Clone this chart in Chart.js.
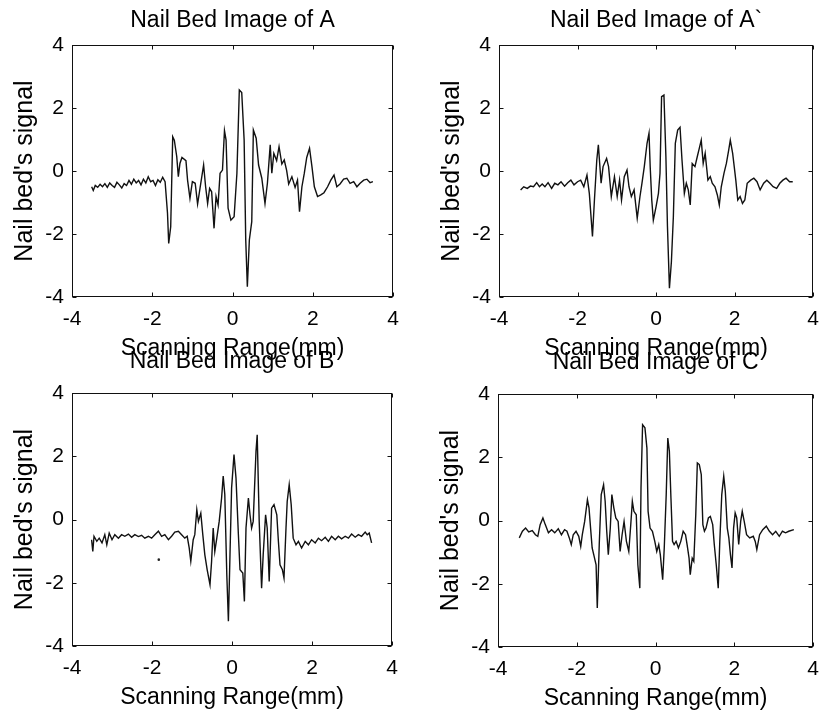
<!DOCTYPE html>
<html><head><meta charset="utf-8">
<script src="https://cdn.jsdelivr.net/npm/chart.js@4.4.1/dist/chart.umd.min.js"></script>
<style>
html,body{margin:0;padding:0;background:#fff;width:829px;height:718px;overflow:hidden;}
canvas{position:absolute;}
</style></head><body>
<canvas id="cA" width="414" height="362" style="left:0px;top:0px"></canvas>
<canvas id="cA2" width="402" height="362" style="left:427px;top:0px"></canvas>
<canvas id="cB" width="414" height="363" style="left:0px;top:348px"></canvas>
<canvas id="cC" width="403" height="363" style="left:426px;top:349px"></canvas>
<script>
// ---- data ----
const titles = ["Nail Bed Image of A", "Nail Bed Image of A`", "Nail Bed Image of B", "Nail Bed Image of C"];
const xLabel = "Scanning Range(mm)";
const yLabel = "Nail bed's signal";
const tickValues = [-4, -2, 0, 2, 4];

const xA = [-3.51,-3.47,-3.42,-3.36,-3.30,-3.24,-3.18,-3.12,-3.06,-3.00,-2.94,-2.88,-2.82,-2.76,-2.70,-2.64,-2.58,-2.52,-2.46,-2.40,-2.34,-2.28,-2.22,-2.16,-2.10,-2.04,-1.98,-1.92,-1.86,-1.80,-1.74,-1.68,
  -1.62,-1.59,-1.54,-1.49,-1.45,-1.39,-1.35,-1.31,-1.26,-1.16,-1.12,-1.06,-1.00,-0.93,-0.87,-0.81,-0.72,-0.67,-0.62,-0.57,-0.52,-0.46,-0.41,-0.36,-0.31,-0.25,-0.20,-0.16,-0.11,-0.04,
  0.04,0.11,0.17,0.23,0.29,0.33,0.37,0.42,0.48,0.52,0.59,0.65,0.73,0.81,0.87,0.94,0.98,1.03,1.10,1.16,1.23,1.29,1.35,1.40,1.48,1.56,1.62,1.67,1.73,1.79,1.85,1.92,1.98,
  2.04,2.12,2.20,2.28,2.37,2.45,2.53,2.60,2.68,2.77,2.85,2.93,3.02,3.10,3.18,3.27,3.35,3.43,3.50];
const yA = [-0.50,-0.62,-0.46,-0.52,-0.42,-0.50,-0.40,-0.52,-0.38,-0.46,-0.52,-0.36,-0.44,-0.54,-0.40,-0.46,-0.30,-0.42,-0.26,-0.38,-0.30,-0.44,-0.26,-0.38,-0.18,-0.34,-0.30,-0.46,-0.28,-0.36,-0.20,-0.34,
  -1.34,-2.30,-1.77,1.09,0.98,0.46,-0.18,0.24,0.43,0.33,-0.29,-0.87,-0.34,-0.39,-1.05,-0.55,0.19,-0.50,-1.03,-0.55,-0.66,-1.82,-0.81,-1.08,-0.07,0.03,1.28,0.98,-1.18,-1.56,
  -1.45,-0.07,2.57,2.49,0.98,-2.19,-3.67,-2.19,-1.61,1.30,1.04,0.19,-0.23,-1.03,-0.39,0.83,-0.07,0.56,0.33,0.77,0.22,0.35,0.01,-0.41,-0.18,-0.52,-0.29,-1.29,-0.50,-0.07,0.43,0.72,0.14,
  -0.50,-0.81,-0.76,-0.69,-0.50,-0.29,-0.13,-0.50,-0.41,-0.26,-0.23,-0.39,-0.34,-0.50,-0.39,-0.29,-0.26,-0.37,-0.34];

const xA2 = [-3.45,-3.37,-3.28,-3.20,-3.12,-3.04,-2.97,-2.90,-2.83,-2.75,-2.66,-2.58,-2.50,-2.42,-2.33,-2.25,-2.17,-2.09,-2.00,-1.92,-1.84,-1.76,
  -1.70,-1.65,-1.62,-1.57,-1.51,-1.47,-1.40,-1.35,-1.26,-1.21,-1.14,-1.06,-0.99,-0.93,-0.88,-0.81,-0.74,-0.69,-0.63,-0.56,-0.48,-0.41,-0.36,-0.30,-0.23,-0.18,-0.15,-0.11,-0.07,
  0.00,0.06,0.10,0.14,0.20,0.25,0.29,0.34,0.39,0.44,0.49,0.55,0.61,0.66,0.72,0.77,0.82,0.87,0.92,0.99,1.05,1.10,1.15,1.20,1.25,1.32,1.38,1.43,1.50,1.56,1.61,1.66,1.73,1.79,1.85,1.89,1.95,1.99,
  2.03,2.08,2.14,2.20,2.26,2.32,2.41,2.49,2.57,2.65,2.74,2.82,2.90,2.98,3.07,3.15,3.23,3.31,3.40,3.48];
const yA2 = [-0.60,-0.50,-0.55,-0.48,-0.50,-0.37,-0.50,-0.41,-0.50,-0.37,-0.55,-0.39,-0.44,-0.34,-0.48,-0.37,-0.29,-0.44,-0.34,-0.29,-0.50,-0.13,
  -0.71,-1.56,-2.08,-0.92,0.35,0.83,-0.39,0.14,0.40,0.14,-0.81,-0.18,-0.81,-0.29,-0.92,-0.18,0.03,-0.50,-0.81,-0.60,-1.50,-0.81,-0.39,0.14,0.88,1.20,0.14,-0.92,-1.56,
  -1.13,-0.71,-0.07,2.36,2.41,0.46,-1.77,-3.72,-2.88,-1.45,0.88,1.30,1.39,0.35,-0.71,-0.39,-0.60,-1.08,0.24,0.14,0.46,0.72,0.98,0.24,0.56,-0.29,-0.18,-0.39,-0.50,-0.76,-1.08,-0.50,-0.07,0.24,0.67,0.98,0.56,0.14,
  -0.29,-0.92,-0.81,-1.03,-0.92,-0.39,-0.29,-0.23,-0.34,-0.60,-0.39,-0.29,-0.39,-0.50,-0.55,-0.39,-0.29,-0.23,-0.34,-0.34];

const xB = [-3.51,-3.48,-3.45,-3.38,-3.32,-3.25,-3.18,-3.13,-3.07,-3.00,-2.93,-2.84,-2.76,-2.68,-2.59,-2.51,-2.43,-2.34,-2.26,-2.18,-2.09,-2.01,-1.93,-1.84,-1.76,-1.68,-1.59,-1.51,-1.43,-1.34,-1.26,-1.18,-1.12,-1.07,-1.03,
  -0.97,-0.93,-0.88,-0.84,-0.78,-0.73,-0.68,-0.62,-0.55,-0.51,-0.47,-0.43,-0.38,-0.32,-0.26,-0.22,-0.18,-0.13,-0.09,-0.05,-0.01,0.05,0.10,0.16,0.20,0.27,0.31,0.35,0.41,0.45,0.49,0.53,0.60,0.63,0.68,0.74,0.78,0.84,0.88,0.93,0.99,
  1.05,1.12,1.16,1.20,1.26,1.30,1.35,1.38,1.43,1.48,1.53,1.60,1.66,1.74,1.83,1.91,1.99,2.08,2.16,2.24,2.33,2.41,2.49,2.58,2.66,2.74,2.83,2.91,2.99,3.08,3.16,3.24,3.33,3.38,3.43,3.49];
const yB = [-0.64,-1.01,-0.53,-0.69,-0.59,-0.74,-0.48,-0.80,-0.43,-0.64,-0.48,-0.59,-0.48,-0.53,-0.46,-0.56,-0.48,-0.54,-0.50,-0.59,-0.53,-0.59,-0.48,-0.37,-0.53,-0.48,-0.64,-0.53,-0.40,-0.37,-0.48,-0.59,-0.53,-0.90,-1.32,
  -0.64,-0.48,0.31,-0.06,0.20,-0.48,-1.11,-1.59,-2.06,-1.32,-0.27,-1.01,-0.59,-0.06,0.68,1.37,0.79,-1.75,-3.22,-1.11,1.00,2.05,1.31,-0.48,-1.59,-1.69,-2.59,-0.27,0.68,0.15,-0.27,-0.06,2.16,2.68,-0.06,-2.17,-1.11,0.15,-0.27,-1.96,0.36,
  0.47,0.15,-0.69,-1.43,-1.59,-1.85,-0.27,0.57,1.10,0.47,-0.59,-0.80,-0.69,-0.90,-0.69,-0.80,-0.64,-0.74,-0.59,-0.67,-0.56,-0.69,-0.53,-0.64,-0.53,-0.61,-0.53,-0.59,-0.46,-0.56,-0.48,-0.53,-0.40,-0.48,-0.43,-0.74];
const xBdot = [-1.83];
const yBdot = [-1.27];

const xC = [-3.46,-3.38,-3.30,-3.22,-3.13,-3.05,-2.99,-2.93,-2.86,-2.80,-2.72,-2.64,-2.56,-2.47,-2.39,-2.31,-2.25,-2.19,-2.14,-2.09,-2.02,-1.95,-1.90,-1.86,-1.80,-1.73,-1.69,-1.65,-1.61,-1.57,-1.51,-1.48,-1.43,-1.38,-1.32,-1.28,-1.24,-1.20,-1.15,-1.11,-1.06,-1.01,
  -0.95,-0.90,-0.85,-0.80,-0.74,-0.68,-0.63,-0.59,-0.55,-0.49,-0.45,-0.40,-0.37,-0.33,-0.27,-0.22,-0.19,-0.14,-0.08,-0.02,0.03,0.08,0.12,0.18,0.22,0.27,0.31,0.35,0.39,0.43,0.47,0.52,0.58,0.64,0.70,0.76,0.80,0.85,0.88,0.93,0.97,
  1.02,1.06,1.11,1.16,1.20,1.24,1.28,1.34,1.39,1.45,1.49,1.54,1.59,1.63,1.68,1.73,1.77,1.82,1.86,1.90,1.94,1.98,2.02,2.06,2.11,2.16,2.20,2.25,2.31,2.39,2.48,2.53,2.57,2.64,2.72,2.81,2.89,2.97,3.05,3.14,3.22,3.30,3.38,3.51];
const yC = [-0.55,-0.34,-0.24,-0.36,-0.32,-0.45,-0.50,-0.13,0.08,-0.13,-0.39,-0.29,-0.39,-0.26,-0.45,-0.29,-0.34,-0.55,-0.76,-0.45,-0.34,-0.50,-0.82,-0.45,-0.03,0.66,0.40,-0.24,-0.87,-1.08,-1.40,-2.77,-0.76,0.82,1.13,0.61,-0.34,-1.08,-0.24,0.82,0.40,0.08,
  -0.03,-0.98,-0.45,-0.03,-0.66,-0.98,-0.13,0.61,0.29,0.18,-1.40,-2.14,1.03,3.03,2.93,2.29,0.29,-0.24,-0.34,-0.66,-0.98,-0.76,-1.08,-1.87,-0.87,0.82,2.61,2.19,0.71,-0.66,-0.76,-0.66,-0.87,-0.66,-0.34,-0.45,-0.76,-1.19,-1.71,-1.19,-1.29,
  0.18,1.82,1.77,1.45,-0.13,-0.34,-0.24,0.08,0.13,-0.13,-0.76,-1.40,-2.14,-0.66,0.82,1.40,0.92,-0.24,-0.55,-1.08,-1.50,-0.24,0.24,0.08,-0.76,-0.03,0.29,-0.03,-0.45,-0.55,-0.50,-0.66,-0.92,-0.45,-0.29,-0.18,-0.34,-0.45,-0.34,-0.50,-0.34,-0.39,-0.34,-0.29];

// ---- drawing ----
const FONT = "'Liberation Sans', Arial, Helvetica, sans-serif";

const boxTicks = {
  id: 'boxTicks',
  afterDatasetsDraw(chart) {
    const {ctx, chartArea: a, scales: {x, y}} = chart;
    ctx.save();
    ctx.strokeStyle = '#111';
    ctx.lineWidth = 1;
    const l = Math.round(a.left) + 0.5, r = Math.round(a.right) - 0.5;
    const t = Math.round(a.top) + 0.5, b = Math.round(a.bottom) - 0.5;
    ctx.strokeRect(l, t, r - l, b - t);
    const L = 4;
    ctx.beginPath();
    x.ticks.forEach(tk => {
      const px = Math.round(x.getPixelForValue(tk.value)) + 0.5;
      ctx.moveTo(px, b); ctx.lineTo(px, b - L);
      ctx.moveTo(px, t); ctx.lineTo(px, t + L);
    });
    y.ticks.forEach(tk => {
      const py = Math.round(y.getPixelForValue(tk.value)) + 0.5;
      ctx.moveTo(l, py); ctx.lineTo(l + L, py);
      ctx.moveTo(r, py); ctx.lineTo(r - L, py);
    });
    ctx.stroke();
    ctx.restore();
  }
};

function makeChart(id, title, xs, ys, padRight, titlePad, dots) {
  const datasets = [{
    data: xs.map((v, i) => ({x: v, y: ys[i]})),
    borderColor: '#111', borderWidth: 1.4, pointRadius: 0, tension: 0, fill: false
  }];
  if (dots) {
    datasets.push({
      data: dots[0].map((v, i) => ({x: v, y: dots[1][i]})),
      showLine: false, pointRadius: 1.3, pointBackgroundColor: '#222', pointBorderWidth: 0
    });
  }
  return new Chart(document.getElementById(id), {
    type: 'line',
    data: {datasets},
    options: {
      responsive: false, animation: false, events: [],
      layout: {padding: {left: 0, right: padRight, top: 0, bottom: 0}},
      plugins: {
        legend: {display: false}, tooltip: {enabled: false},
        title: {display: true, text: title, fullSize: false, color: '#000',
          font: {family: FONT, size: 23, weight: 'normal'}, padding: titlePad}
      },
      scales: {
        x: {
          type: 'linear', min: -4, max: 4,
          afterBuildTicks(s) { s.ticks = tickValues.map(v => ({value: v})); },
          afterFit(s) { s.height = 65; },
          grid: {display: false, drawTicks: false}, border: {display: false},
          ticks: {autoSkip: false, maxRotation: 0, color: '#000', padding: 10,
            font: {family: FONT, size: 21}},
          title: {display: true, text: xLabel, color: '#000',
            font: {family: FONT, size: 23}, padding: {top: 0, bottom: 0}}
        },
        y: {
          type: 'linear', min: -4, max: 4,
          afterBuildTicks(s) { s.ticks = tickValues.map(v => ({value: v})); },
          afterFit(s) { s.width = 72; },
          grid: {display: false, drawTicks: false}, border: {display: false},
          ticks: {autoSkip: false, color: '#000', padding: 8,
            font: {family: FONT, size: 21}},
          title: {display: true, text: yLabel, color: '#000',
            font: {family: FONT, size: 25}, padding: {top: 10, bottom: 0}}
        }
      }
    },
    plugins: [boxTicks]
  });
}

const topPad = {top: 7, bottom: 10.4};
const botPad = {top: 0, bottom: 17.4};
makeChart('cA', titles[0], xA, yA, 21, topPad);
makeChart('cA2', titles[1], xA2, yA2, 7, topPad);
makeChart('cB', titles[2], xB, yB, 22, botPad, [xBdot, yBdot]);
makeChart('cC', titles[3], xC, yC, 8, botPad);
</script>
</body></html>
